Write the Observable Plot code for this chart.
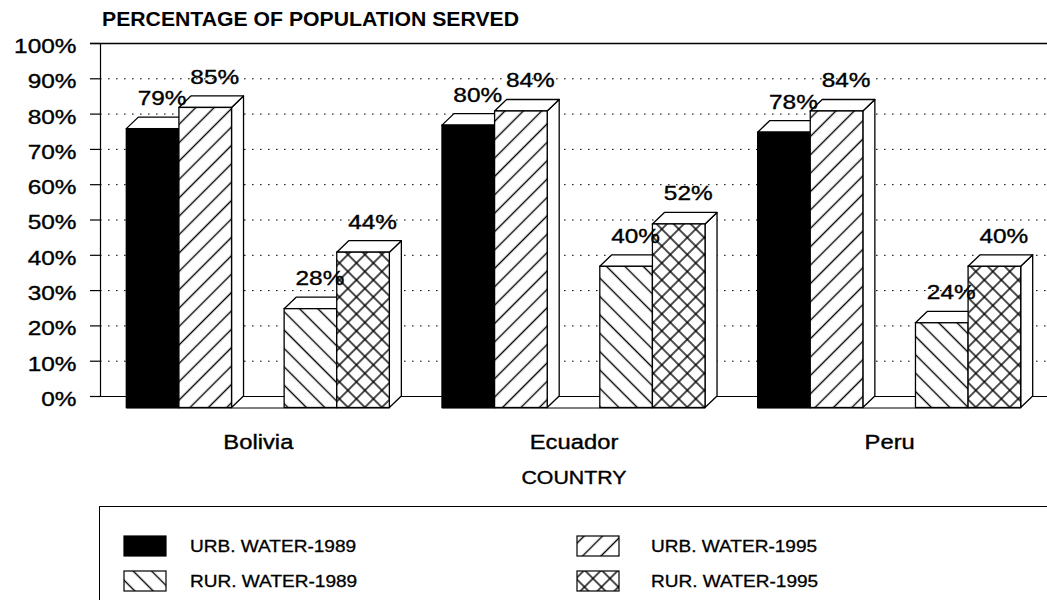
<!DOCTYPE html>
<html>
<head>
<meta charset="utf-8">
<script src="https://cdn.jsdelivr.net/npm/d3@7"></script>
<script src="https://cdn.jsdelivr.net/npm/@observablehq/plot@0.6"></script>
<style>
  body { margin: 0; background: #fff; font-family: "Liberation Sans", Arial, Helvetica, sans-serif; color: #000; }
  #wrap { position: relative; width: 1047px; height: 600px; overflow: hidden; background: #fff; }
  #title { position: absolute; left: 102px; top: 9px; font-weight: bold; font-size: 20px; line-height: 20px;
           transform: scaleX(1.06); transform-origin: 0 0; white-space: nowrap; }
  #chart { position: absolute; left: 0; top: 0; }
  #chart text { stroke: #000; stroke-width: 0.35px; }
  #legend { position: absolute; left: 99px; top: 506px; width: 960px; height: 100px;
            border-top: 1.5px solid #000; border-left: 1px solid #000; }
  .sw { position: absolute; }
  .lt { position: absolute; font-size: 17px; line-height: 17px; white-space: nowrap;
        -webkit-text-stroke: 0.3px #000;
        transform: scaleX(1.12); transform-origin: 0 50%; }
</style>
</head>
<body>
<svg width="0" height="0" style="position:absolute">
  <defs>
    <pattern id="pSolid" patternUnits="userSpaceOnUse" width="10" height="10">
      <rect width="10" height="10" fill="#000"/>
    </pattern>
    <pattern id="pFwd" patternUnits="userSpaceOnUse" width="13" height="13" patternTransform="rotate(-45)">
      <rect width="13" height="13" fill="#fff"/>
      <line x1="-1" y1="6.5" x2="14" y2="6.5" stroke="#000" stroke-width="1.4"/>
    </pattern>
    <pattern id="pBack" patternUnits="userSpaceOnUse" width="13" height="13" patternTransform="rotate(45)">
      <rect width="13" height="13" fill="#fff"/>
      <line x1="-1" y1="6.5" x2="14" y2="6.5" stroke="#000" stroke-width="1.4"/>
    </pattern>
    <pattern id="pCross" patternUnits="userSpaceOnUse" width="12" height="12" patternTransform="rotate(45)">
      <rect width="12" height="12" fill="#fff"/>
      <line x1="-1" y1="6" x2="13" y2="6" stroke="#000" stroke-width="1.4"/>
      <line x1="6" y1="-1" x2="6" y2="13" stroke="#000" stroke-width="1.4"/>
    </pattern>
  </defs>
</svg>
<div id="wrap">
  <div id="chart"></div>
  <div id="title"></div>
  <div id="legend"></div>
</div>
<script>
// ---- data ----
const yTitle = "PERCENTAGE OF POPULATION SERVED";
const xTitle = "COUNTRY";
const countries = ["Bolivia", "Ecuador", "Peru"];
const seriesNames = ["URB. WATER-1989", "URB. WATER-1995", "RUR. WATER-1989", "RUR. WATER-1995"];
const urbWater1989 = [79, 80, 78];
const urbWater1995 = [85, 84, 84];
const rurWater1989 = [28, 40, 24];
const rurWater1995 = [44, 52, 40];
const yTicks = [0, 10, 20, 30, 40, 50, 60, 70, 80, 90, 100];
const yTickLabels = ["0%", "10%", "20%", "30%", "40%", "50%", "60%", "70%", "80%", "90%", "100%"];

// ---- styling / layout ----
const seriesValues = [urbWater1989, urbWater1995, rurWater1989, rurWater1995];
const seriesFills = ["url(#pSolid)", "url(#pFwd)", "url(#pBack)", "url(#pCross)"];
const W = 1047, H = 500;
const mTop = 43, mLeft = 100, mRight = 0;
const pxPerPct = 3.53;
const depthPxX = 12, depthPxY = 11.5;
const depthY = depthPxY / pxPerPct;
const xDomain = [-0.5, 17.5];
const pxPerSlot = (W - mLeft - mRight) / (xDomain[1] - xDomain[0]);
const depthX = depthPxX / pxPerSlot;
const mBottom = H - (mTop + (100 + depthY) * pxPerPct);
const tickLen = 10 / pxPerSlot;

const slotOf = (g, s) => g * 6 + s + (s >= 2 ? 1 : 0);

const bars = [];
countries.forEach((c, g) => {
  seriesNames.forEach((name, s) => {
    bars.push({country: c, series: name, si: s, value: seriesValues[s][g], slot: slotOf(g, s), id: c + "|" + name});
  });
});

const sidePts = bars.flatMap(b => [
  {id: b.id, x: b.slot + 1, y1: -depthY, y2: b.value - depthY},
  {id: b.id, x: b.slot + 1 + depthX, y1: 0, y2: b.value}
]);
const topPts = bars.flatMap(b => [
  {id: b.id, y: b.value - depthY, x1: b.slot, x2: b.slot + 1},
  {id: b.id, y: b.value, x1: b.slot + depthX, x2: b.slot + 1 + depthX}
]);
const groups = countries.map((c, g) => ({country: c, start: slotOf(g, 0), end: slotOf(g, 3) + 1}));

const frontMarks = seriesNames.map((name, s) =>
  Plot.rectY(bars.filter(b => b.si === s), {
    x1: "slot", x2: b => b.slot + 1, y1: -depthY, y2: b => b.value - depthY,
    fill: seriesFills[s], stroke: "#000", strokeWidth: 1.3
  })
);

const chart = Plot.plot({
  width: W, height: H,
  marginTop: mTop, marginLeft: mLeft, marginRight: mRight, marginBottom: mBottom,
  style: {fontFamily: "'Liberation Sans', Arial, Helvetica, sans-serif", background: "#fff", color: "#000"},
  x: {domain: xDomain, axis: null},
  y: {domain: [-depthY, 100], axis: null},
  marks: [
    Plot.ruleY(yTicks.filter(t => t > 0 && t < 100), {stroke: "#000", strokeWidth: 1, strokeDasharray: "1.6,6.4"}),
    Plot.ruleY([100], {x1: xDomain[0] - tickLen, x2: xDomain[1], stroke: "#000", strokeWidth: 1.4}),
    Plot.ruleY([0], {x1: xDomain[0] - tickLen, x2: xDomain[1], stroke: "#000", strokeWidth: 1.2}),
    Plot.ruleY(yTicks, {x1: xDomain[0] - tickLen, x2: xDomain[0], stroke: "#000", strokeWidth: 1.2}),
    Plot.ruleX([xDomain[0]], {y1: 0, y2: 100, stroke: "#000", strokeWidth: 1.2}),
    Plot.ruleY(groups, {y: -depthY, x1: "start", x2: "end", stroke: "#000", strokeWidth: 1.2}),
    Plot.areaY(sidePts, {x: "x", y1: "y1", y2: "y2", z: "id", fill: "#fff", stroke: "#000", strokeWidth: 1.3, curve: "linear"}),
    Plot.areaX(topPts, {y: "y", x1: "x1", x2: "x2", z: "id", fill: "#fff", stroke: "#000", strokeWidth: 1.3, curve: "linear"}),
    ...frontMarks,
    Plot.text(yTicks, {x: xDomain[0], y: d => d, text: (d, i) => yTickLabels[i], textAnchor: "end", dx: -24, dy: 3, fontSize: 20}),
    Plot.text(bars, {x: b => b.slot + 0.5, y: "value", text: b => b.value + "%", dx: 9, dy: -19, fontSize: 20}),
    Plot.text(groups, {x: g => (g.start + g.end) / 2, y: -depthY, text: "country", dy: 35, fontSize: 19.5}),
    Plot.text([xTitle], {x: (groups[1].start + groups[1].end) / 2, y: -depthY, text: d => d, dy: 70, fontSize: 17.5})
  ]
});

// widen text horizontally like the original lettering
chart.querySelectorAll("text").forEach(t => {
  let tr = t.getAttribute("transform");
  if (!tr) {
    const x = +t.getAttribute("x") || 0, y = +t.getAttribute("y") || 0;
    t.removeAttribute("x"); t.removeAttribute("y");
    tr = `translate(${x},${y})`;
  }
  t.setAttribute("transform", tr + " scale(1.22,1)");
});
document.getElementById("chart").appendChild(chart);
document.getElementById("title").textContent = yTitle;

// legend
const legend = document.getElementById("legend");
const legPos = [
  {sx: 23, tx: 90, cy: 39},
  {sx: 476, tx: 551, cy: 39},
  {sx: 23, tx: 90, cy: 74},
  {sx: 476, tx: 551, cy: 74}
];
seriesNames.forEach((name, s) => {
  const p = legPos[s];
  const sw = document.createElementNS("http://www.w3.org/2000/svg", "svg");
  sw.setAttribute("width", 44); sw.setAttribute("height", 22);
  sw.setAttribute("class", "sw");
  sw.style.left = p.sx + "px"; sw.style.top = (p.cy - 11) + "px";
  const r = document.createElementNS("http://www.w3.org/2000/svg", "rect");
  r.setAttribute("x", 1); r.setAttribute("y", 1); r.setAttribute("width", 42); r.setAttribute("height", 20);
  r.setAttribute("fill", seriesFills[s]); r.setAttribute("stroke", "#000"); r.setAttribute("stroke-width", 1.2);
  sw.appendChild(r);
  legend.appendChild(sw);
  const t = document.createElement("div");
  t.className = "lt"; t.textContent = name;
  t.style.left = p.tx + "px"; t.style.top = (p.cy - 8.5) + "px";
  legend.appendChild(t);
});
</script>
</body>
</html>
